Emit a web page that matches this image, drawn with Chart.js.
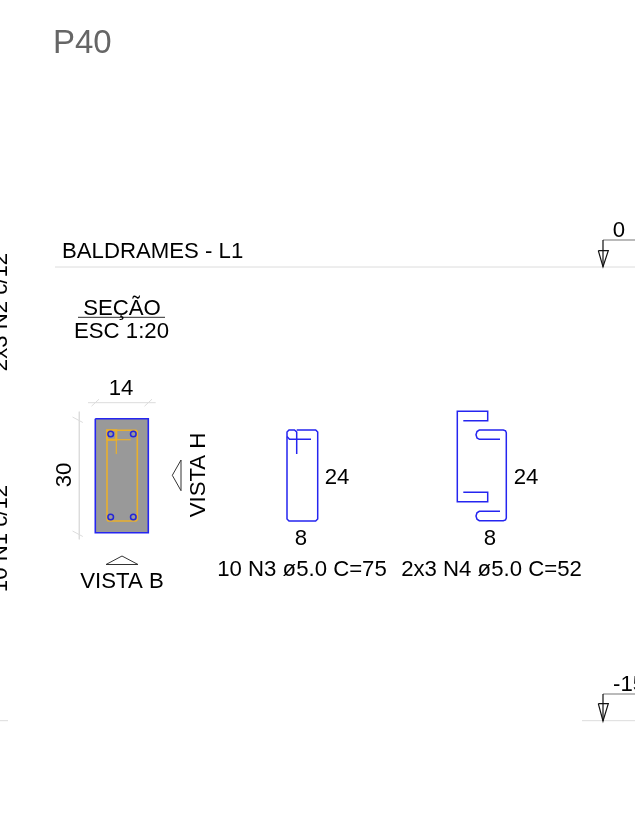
<!DOCTYPE html>
<html>
<head>
<meta charset="utf-8">
<style>html,body{margin:0;padding:0;background:#fff;overflow:hidden}canvas{display:block}</style>
<script src="https://cdn.jsdelivr.net/npm/chart.js@4"></script>
</head>
<body>
<canvas id="c" width="635" height="833"></canvas>
<script>
// Drawing geometry, in drawing units
const sectionOutline = [[95.3,418.7],[148.3,418.7],[148.3,532.7],[95.3,532.7],[95.3,418.7]];
const stirrup = [[107,431.5],[108,430.3],[136,430.3],[137.3,431.5],[137.3,519.7],[136,521],[108,521],[107,519.7],[107,431.5]];
const stirrupHookH = [[107,439.7],[130.7,439.7]];
const stirrupHookV = [[116.3,430.3],[116.3,454]];
const stirrupLoop = [[107,439.7],[107,430.3],[116.3,430.3],[116.3,439.7],[107,439.7]];
const rebars = [[110.7,434],[133.3,434],[110.7,517],[133.3,517]];

const dimTop = [[88,402.7],[155.7,402.7]];
const dimTopTickA = [[91.5,406.2],[99,399.2]];
const dimTopTickB = [[144.5,406.2],[152,399.2]];
const dimLeft = [[79.3,411.7],[79.3,539.3]];
const dimLeftTickA = [[72.5,417],[82.8,422.5]];
const dimLeftTickB = [[72.5,531],[82.8,536.5]];

const vistaH = [[181,460],[172.3,475.3],[181,490.7],[181,460]];
const vistaB = [[106,564.5],[122,556],[138,564.5],[106,564.5]];
const secaoRule = [[78,317.3],[165,317.3]];

const n3Outer = [[296.7,430],[315.7,430],[317.7,432],[317.7,519],[315.7,521],[289,521],[287,519],[287,432],[289,430],[294.5,430],[296.7,432],[296.7,454]];
const n3Hook = [[287,436.5],[289.5,439.3],[311,439.3]];

const n4Upper = [[463.3,420.7],[487.7,420.7],[487.7,411.3],[457.3,411.3],[457.3,501.7],[487.7,501.7],[487.7,492.3],[463.3,492.3]];
const n4Lower = [[500,439.3],[479.3,439.3],[477,438],[476,434.7],[477,431.5],[479.3,430],[503.3,430],[505.5,430.8],[506.3,432.7],[506.3,518],[505.5,520],[503.3,520.7],[479.3,520.7],[477,519.2],[476,516],[477,512.8],[479.3,511.3],[500,511.3]];

const levelLineTop = [[55,267],[635,267]];
const levelArmTop = [[603,240],[640,240]];
const levelStemTop = [[603,240],[603,266.7]];
const levelArrowTop = [[598.3,250.7],[603,266.7],[608.3,250.7],[598.3,250.7]];
const levelLineBottom = [[582,720.7],[635,720.7]];
const levelLineBottomLeft = [[0,720.7],[8,720.7]];
const levelArmBottom = [[603,694],[640,694]];
const levelStemBottom = [[603,694],[603,721]];
const levelArrowBottom = [[598.3,703.7],[603,721],[608.3,703.7],[598.3,703.7]];

// Text labels: string, anchor x, anchor y
const titleLabel = [['P40',53,53]];
const headingLabels = [['BALDRAMES - L1',62,257.5],['SEÇÃO',122,315],['ESC 1:20',121.5,338],['14',121,395],['VISTA B',122,588],
  ['24',337,484],['24',526,484],['8',301,545],['8',490,545],['10 N3 ø5.0 C=75',302,576],['2x3 N4 ø5.0 C=52',491.5,576],['0',619,237]];
const clippedLabels = [['-15',613,691]];
const verticalLabels = [['30',71,475],['VISTA H',205,475],['2x3 N2 c/12',7,312],['10 N1 c/12',7,538.5]];

const BLUE='#2525f0', ORANGE='#e9b02c', GREY='#dcdcdc', DARK='#333333', BLACK='#111111';
const toPts = a => a.map(p => ({x:p[0], y:p[1]}));
const line = (d,color,w,extra) => Object.assign({data:toPts(d),showLine:true,borderColor:color,borderWidth:w,pointRadius:0,fill:false,tension:0},extra||{});

const textPlugin = {
  id:'textPlugin',
  afterDatasetsDraw(chart){
    const {ctx,scales:{x,y}} = chart;
    const font='"Liberation Sans", Arial, sans-serif';
    ctx.save();
    ctx.textBaseline='alphabetic';
    ctx.fillStyle='#666666'; ctx.font='33px '+font; ctx.textAlign='left';
    titleLabel.forEach(l=>ctx.fillText(l[0],x.getPixelForValue(l[1]),y.getPixelForValue(l[2])));
    ctx.fillStyle='#000000'; ctx.font='22.2px '+font;
    headingLabels.forEach(l=>{
      ctx.textAlign = l[0].startsWith('BALDRAMES') ? 'left' : 'center';
      ctx.fillText(l[0],x.getPixelForValue(l[1]),y.getPixelForValue(l[2]));
    });
    ctx.textAlign='left';
    clippedLabels.forEach(l=>ctx.fillText(l[0],x.getPixelForValue(l[1]),y.getPixelForValue(l[2])));
    ctx.textAlign='center';
    verticalLabels.forEach(l=>{
      ctx.save();
      ctx.translate(x.getPixelForValue(l[1]),y.getPixelForValue(l[2]));
      ctx.rotate(-Math.PI/2);
      ctx.fillText(l[0],0,0);
      ctx.restore();
    });
    ctx.restore();
  }
};

// The first dataset is painted last, so marks on top come first.
new Chart(document.getElementById('c'),{
  type:'scatter',
  data:{datasets:[
    {data:toPts(rebars),showLine:false,pointRadius:2.8,pointBorderWidth:1.5,pointBorderColor:'#2525d8',pointBackgroundColor:'rgba(0,0,0,0)'},
    line(stirrupHookH,ORANGE,1.2), line(stirrupHookV,ORANGE,1.2), line(stirrupLoop,ORANGE,2),
    line(stirrup,ORANGE,1.6),
    line(sectionOutline,BLUE,1.6,{fill:'shape',backgroundColor:'#999999'}),
    line(n3Outer,BLUE,1.5), line(n3Hook,BLUE,1.5),
    line(n4Upper,BLUE,1.5), line(n4Lower,BLUE,1.5),
    line(vistaH,DARK,1), line(vistaB,DARK,1), line(secaoRule,'#555555',1.2),
    line(levelStemTop,BLACK,1.2), line(levelArrowTop,BLACK,1.2),
    line(levelStemBottom,BLACK,1.2), line(levelArrowBottom,BLACK,1.2),
    line(levelArmTop,'#777777',1.2), line(levelArmBottom,'#777777',1.2),
    line(levelLineTop,GREY,1),
    line(levelLineBottom,GREY,1),
    line(levelLineBottomLeft,GREY,1),
    line(dimTop,GREY,1), line(dimTopTickA,GREY,1), line(dimTopTickB,GREY,1),
    line(dimLeft,GREY,1), line(dimLeftTickA,GREY,1), line(dimLeftTickB,GREY,1)
  ]},
  options:{
    responsive:false, animation:false, events:[],
    layout:{padding:0,autoPadding:false},
    plugins:{legend:{display:false},tooltip:{enabled:false},title:{display:false}},
    scales:{
      x:{type:'linear',display:false,min:0,max:635},
      y:{type:'linear',display:false,min:0,max:833,reverse:true}
    }
  },
  plugins:[textPlugin]
});
</script>
</body>
</html>
